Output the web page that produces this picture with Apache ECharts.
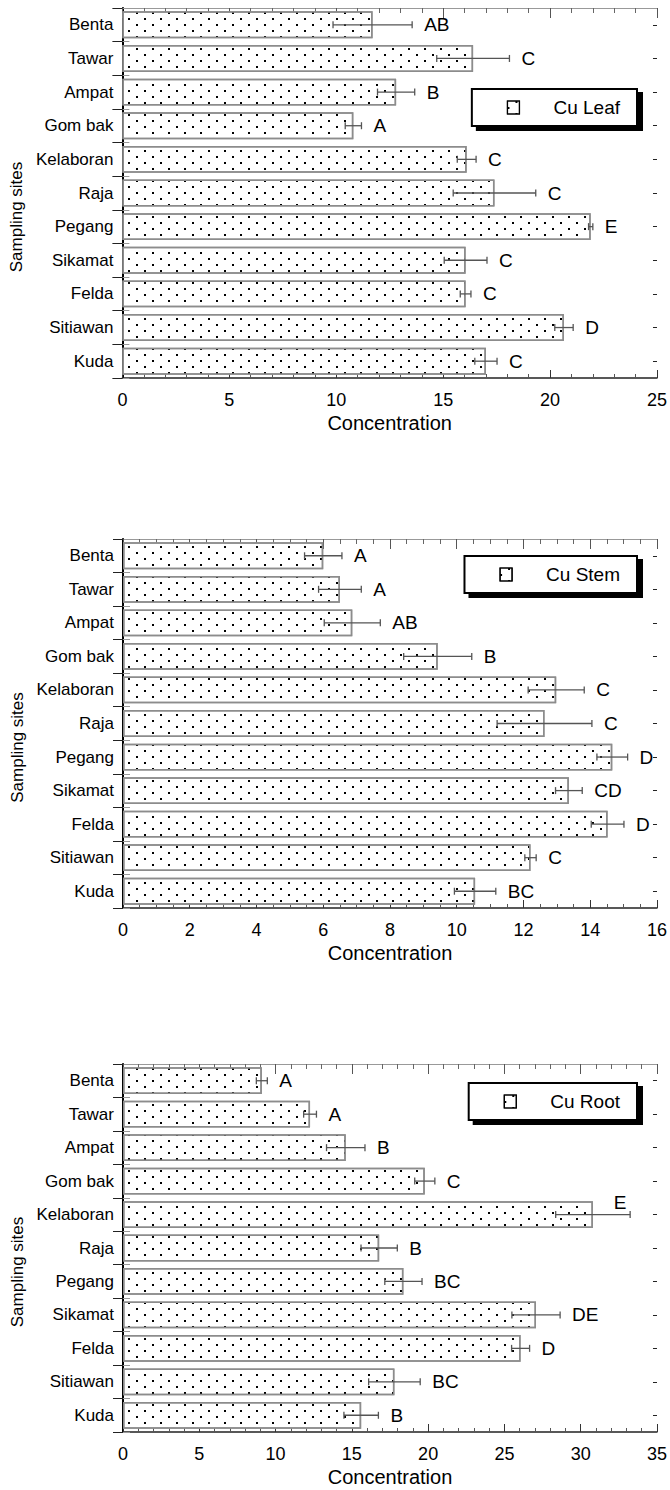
<!DOCTYPE html>
<html><head><meta charset="utf-8">
<script src="https://cdn.jsdelivr.net/npm/echarts@6/dist/echarts.min.js"></script>
<style>html,body{margin:0;padding:0;background:#fff}#c{width:670px;height:1490px}</style>
</head><body><div id="c"></div>
<script>
// ---- data ----
const sites = ['Benta','Tawar','Ampat','Gom bak','Kelaboran','Raja','Pegang','Sikamat','Felda','Sitiawan','Kuda'];
const leafValues  = [11.7, 16.4, 12.8, 10.8, 16.1, 17.4, 21.9, 16.05, 16.05, 20.65, 17.0];
const leafErrors  = [1.85, 1.7, 0.87, 0.38, 0.44, 1.93, 0.1, 1.0, 0.25, 0.43, 0.52];
const leafLetters = ['AB','C','B','A','C','C','E','C','C','D','C'];
const stemValues  = [6.0, 6.5, 6.87, 9.43, 12.98, 12.63, 14.66, 13.36, 14.52, 12.21, 10.55];
const stemErrors  = [0.56, 0.64, 0.84, 1.02, 0.84, 1.42, 0.46, 0.4, 0.49, 0.17, 0.62];
const stemLetters = ['A','A','AB','B','C','C','D','CD','D','C','BC'];
const rootValues  = [9.1, 12.26, 14.6, 19.78, 30.8, 16.79, 18.38, 27.07, 26.06, 17.79, 15.61];
const rootErrors  = [0.36, 0.42, 1.26, 0.66, 2.44, 1.19, 1.22, 1.58, 0.59, 1.69, 1.13];
const rootLetters = ['A','A','B','C','E','B','BC','DE','D','BC','B'];
const panelNames = ['Cu Leaf','Cu Stem','Cu Root'];
const xMaxes = [25, 16, 35];
const xSteps = [5, 2, 5];
const xMinorSplits = [5, 4, 5];
const xTitle = 'Concentration';
const yTitle = 'Sampling sites';

// ---- layout / style ----
const FONT = "'Liberation Sans', Arial, sans-serif";
const grids = [
  {left: 118, top: 8, right: 13, height: 370},
  {left: 123, top: 539, right: 12, height: 369},
  {left: 123, top: 1064, right: 12, height: 368}
];
const legendTops = [89, 556, 1083];
// letters drawn above the error-bar end instead of to its right (panel -> row indices)
const lettersAbove = {2: [4]};
const panels = [
  {v: leafValues, e: leafErrors, l: leafLetters},
  {v: stemValues, e: stemErrors, l: stemLetters},
  {v: rootValues, e: rootErrors, l: rootLetters}
];
const decal = {
  symbol: 'rect', symbolSize: 1, color: '#000', backgroundColor: '#fff',
  dashArrayX: [[1.6, 13.4], [0, 7.5, 1.6, 5.9]],
  dashArrayY: [1.5, 3.1]
};

const option = {animation: false, backgroundColor: '#fff', grid: [], xAxis: [], yAxis: [], series: [], legend: []};

panels.forEach((p, k) => {
  option.grid.push(Object.assign({containLabel: false}, grids[k]));
  const above = lettersAbove[k] || [];
  // bottom value axis
  option.xAxis.push({
    type: 'value', gridIndex: k, min: 0, max: xMaxes[k], interval: xSteps[k], position: 'bottom',
    name: xTitle, nameLocation: 'middle', nameGap: 35,
    nameTextStyle: {fontFamily: FONT, fontSize: 20, color: '#000'},
    axisLine: {show: true, onZero: false, lineStyle: {color: '#222', width: 1.5}},
    axisTick: {show: true, inside: true, length: 8, lineStyle: {color: '#333', width: 1}},
    minorTick: {show: true, splitNumber: xMinorSplits[k], length: 4, lineStyle: {color: '#555', width: 1}},
    axisLabel: {fontFamily: FONT, fontSize: 18, color: '#000', margin: 13},
    splitLine: {show: false}, minorSplitLine: {show: false}
  });
  // top mirror axis
  option.xAxis.push({
    type: 'value', gridIndex: k, min: 0, max: xMaxes[k], interval: xSteps[k], position: 'top',
    axisLine: {show: true, onZero: false, lineStyle: {color: '#999', width: 1}},
    axisTick: {show: true, inside: true, length: 10, lineStyle: {color: '#555', width: 1}},
    minorTick: {show: true, splitNumber: xMinorSplits[k], length: 5, lineStyle: {color: '#666', width: 1}},
    axisLabel: {show: false}, splitLine: {show: false}
  });
  // left category axis
  option.yAxis.push({
    type: 'category', gridIndex: k, data: sites, inverse: true, position: 'left',
    name: yTitle, nameLocation: 'middle', nameGap: 81 + (k ? 5 : 0),
    nameTextStyle: {fontFamily: FONT, fontSize: 17, color: '#000', padding: [0, 48, 0, 0]},
    axisLine: {show: true, lineStyle: {color: '#999', width: 1}},
    axisTick: {show: true, inside: true, length: 7, alignWithLabel: false, lineStyle: {color: '#999', width: 1}},
    axisLabel: {fontFamily: FONT, fontSize: 17, color: '#000', margin: 9},
    splitLine: {show: false}
  });
  // right mirror axis (boundary ticks)
  option.yAxis.push({
    type: 'category', gridIndex: k, data: sites, inverse: true, position: 'right',
    axisLine: {show: true, lineStyle: {color: '#000', width: 2}},
    axisTick: {show: true, inside: true, length: 10, alignWithLabel: false, lineStyle: {color: '#222', width: 1}},
    axisLabel: {show: false}, splitLine: {show: false}
  });
  // right mirror axis (centre ticks)
  option.yAxis.push({
    type: 'category', gridIndex: k, data: sites, inverse: true, position: 'right',
    axisLine: {show: false},
    axisTick: {show: true, inside: true, length: 4, alignWithLabel: true, lineStyle: {color: '#222', width: 1}},
    axisLabel: {show: false}, splitLine: {show: false}
  });
  const xi = k * 2, yi = k * 3;
  option.series.push({
    type: 'bar', name: panelNames[k], xAxisIndex: xi, yAxisIndex: yi,
    data: p.v, barCategoryGap: '20%',
    itemStyle: {color: '#fff', borderColor: '#8c8c8c', borderWidth: 1.5, decal: decal},
    emphasis: {disabled: true}, z: 2
  });
  option.series.push({
    type: 'custom', name: panelNames[k] + ' error', xAxisIndex: xi, yAxisIndex: yi,
    data: p.v.map((v, i) => [v, i, p.e[i]]),
    encode: {x: 0, y: 1},
    z: 5, silent: true,
    renderItem: function (params, api) {
      const i = params.dataIndex;
      const v = api.value(0), e = api.value(2);
      const a = api.coord([v - e, i]);
      const b = api.coord([v + e, i]);
      const cap = 3.5;
      const ls = {stroke: '#555', lineWidth: 1.3};
      const isAbove = above.indexOf(i) >= 0;
      return {
        type: 'group',
        children: [
          {type: 'line', shape: {x1: a[0], y1: a[1], x2: b[0], y2: b[1]}, style: ls},
          {type: 'line', shape: {x1: a[0], y1: a[1] - cap, x2: a[0], y2: a[1] + cap}, style: ls},
          {type: 'line', shape: {x1: b[0], y1: b[1] - cap, x2: b[0], y2: b[1] + cap}, style: ls},
          {type: 'text', style: {text: p.l[i],
            x: isAbove ? b[0] - 10 : b[0] + 12, y: isAbove ? b[1] - 12 : b[1],
            align: isAbove ? 'center' : 'left', verticalAlign: 'middle',
            font: '19px ' + FONT, fill: '#000'}}
        ]
      };
    }
  });
  option.legend.push({
    data: [panelNames[k]], top: legendTops[k], right: 33, orient: 'horizontal',
    backgroundColor: '#fff', borderColor: '#000', borderWidth: 2, borderRadius: 0,
    shadowColor: '#000', shadowBlur: 0, shadowOffsetX: 5, shadowOffsetY: 4,
    padding: [9, 17, 9, 35], itemWidth: 12, itemHeight: 13, icon: 'rect',
    itemStyle: {borderColor: '#000', borderWidth: 1.2},
    textStyle: {fontFamily: FONT, fontSize: 19, color: '#000', padding: [0, 0, 0, 29]},
    selectedMode: false
  });
});

const chart = echarts.init(document.getElementById('c'), null, {renderer: 'svg', width: 670, height: 1490});
chart.setOption(option);
</script>
</body></html>
